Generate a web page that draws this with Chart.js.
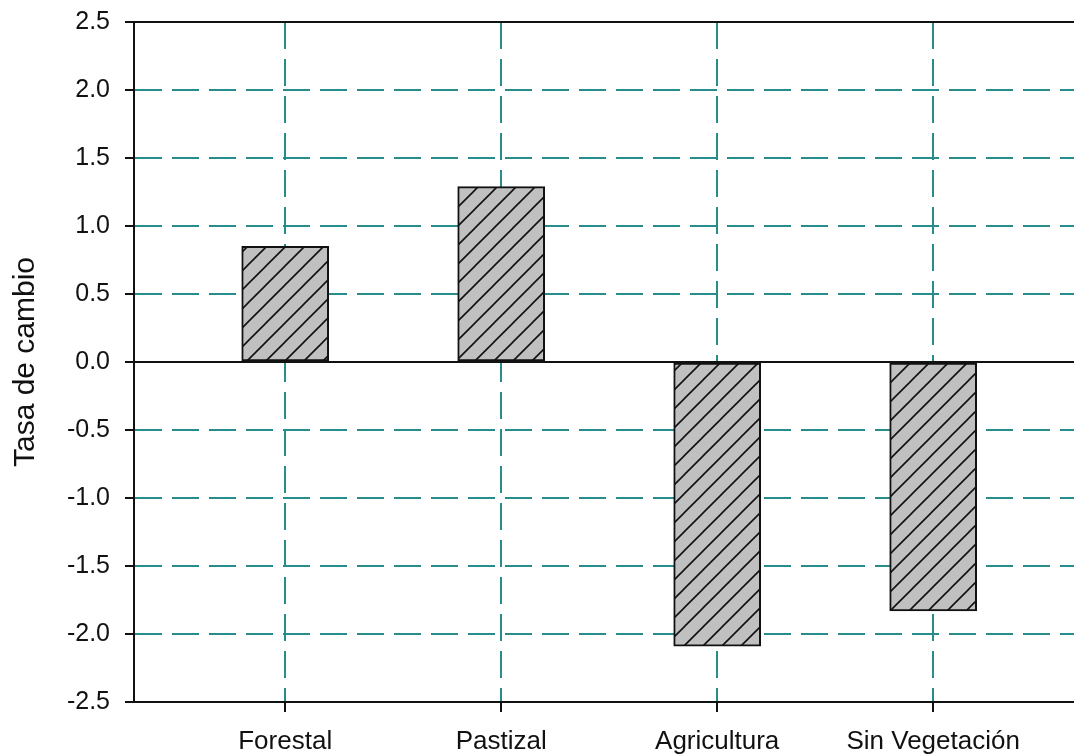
<!DOCTYPE html>
<html>
<head>
<meta charset="utf-8">
<script src="https://cdn.jsdelivr.net/npm/chart.js@4"></script>
<style>
  html, body { margin: 0; padding: 0; background: #fff; }
  #wrap { width: 1074px; height: 756px; position: relative; }
</style>
</head>
<body>
<div id="wrap"><canvas id="c"></canvas></div>
<script>
const categories = ["Forestal", "Pastizal", "Agricultura", "Sin Vegetación"];
const values = [0.85, 1.29, -2.09, -1.83];
const yTicks = [-2.5, -2.0, -1.5, -1.0, -0.5, 0.0, 0.5, 1.0, 1.5, 2.0, 2.5];
const yTitle = "Tasa de cambio";

const TEAL = "rgb(38,140,140)";
const FONT = "'Liberation Sans', Arial, sans-serif";

function makeHatch() {
  const s = 19;
  const c = document.createElement("canvas");
  c.width = s; c.height = s;
  const g = c.getContext("2d");
  g.fillStyle = "#c0c0c0";
  g.fillRect(0, 0, s, s);
  g.strokeStyle = "#111";
  g.lineWidth = 1.6;
  g.beginPath();
  g.moveTo(-2, s + 2); g.lineTo(s + 2, -2);
  g.moveTo(-3, 3); g.lineTo(3, -3);
  g.moveTo(s - 3, s + 3); g.lineTo(s + 3, s - 3);
  g.stroke();
  return g.createPattern(c, "repeat");
}

const framePlugin = {
  id: "frame",
  afterDatasetsDraw(chart) {
    const { ctx, chartArea } = chart;
    const y = chart.scales.y;
    ctx.save();
    ctx.strokeStyle = "#111";
    ctx.lineWidth = 2;
    ctx.beginPath();
    const y0 = y.getPixelForValue(0);
    ctx.moveTo(chartArea.left, y0); ctx.lineTo(chartArea.right, y0);
    const yt = y.getPixelForValue(yTicks[yTicks.length - 1]);
    ctx.moveTo(chartArea.left - 1, yt); ctx.lineTo(chartArea.right, yt);
    ctx.stroke();
    ctx.restore();
  }
};

new Chart(document.getElementById("c"), {
  type: "bar",
  data: {
    datasets: [{
      data: values.map((v, i) => ({ x: i, y: v })),
      backgroundColor: makeHatch(),
      borderColor: "#111",
      borderWidth: 2,
      borderSkipped: false,
      barThickness: 87
    }]
  },
  plugins: [framePlugin],
  options: {
    responsive: true,
    maintainAspectRatio: false,
    animation: false,
    layout: { padding: { top: 22, right: 0, left: 0, bottom: 0 } },
    plugins: { legend: { display: false }, tooltip: { enabled: false } },
    scales: {
      x: {
        type: "linear",
        offset: false,
        min: -0.7,
        max: 3.652,
        afterBuildTicks: (s) => { s.ticks = categories.map((_, i) => ({ value: i })); },
        afterFit: (s) => { s.height = 54; s.paddingLeft = 0; s.paddingRight = 0; },
        ticks: {
          autoSkip: false,
          maxRotation: 0,
          padding: 14,
          color: "#111",
          font: { family: FONT, size: 26 },
          callback: (v) => categories[v]
        },
        grid: {
          offset: false,
          color: TEAL,
          lineWidth: 2,
          tickLength: 10,
          tickColor: "#111",
          tickWidth: 2,
          tickBorderDash: []
        },
        border: { display: true, color: "#111", width: 2, dash: [27, 10] }
      },
      y: {
        min: -2.5,
        max: 2.5,
        afterBuildTicks: (s) => { s.ticks = yTicks.map(v => ({ value: v })); },
        afterFit: (s) => { s.width = 134; s.paddingTop = 0; s.paddingBottom = 0; },
        ticks: {
          padding: 15,
          color: "#111",
          font: { family: FONT, size: 25 },
          callback: (v) => Number(v).toFixed(1)
        },
        grid: {
          color: (ctx) => {
            const v = ctx.tick ? ctx.tick.value : null;
            return (v === 0 || v === 2.5 || v === -2.5) ? "rgba(0,0,0,0)" : TEAL;
          },
          lineWidth: 2,
          tickLength: 9,
          tickColor: "#111",
          tickWidth: 2,
          tickBorderDash: []
        },
        border: { display: true, color: "#111", width: 2, dash: [27, 10] },
        title: {
          display: true,
          text: yTitle,
          color: "#111",
          font: { family: FONT, size: 30 },
          padding: { top: 8, bottom: 4 }
        }
      }
    }
  }
});
</script>
</body>
</html>
